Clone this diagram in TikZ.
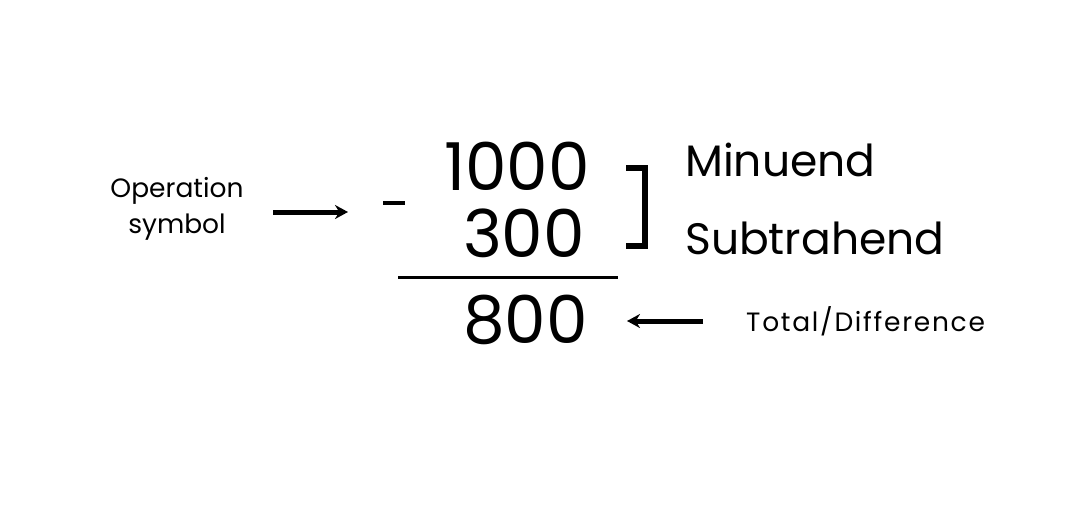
\documentclass[tikz,border=0pt]{standalone}
\usepackage{fontspec}
\setmainfont{Poppins}
\usetikzlibrary{arrows.meta}
\begin{document}
\begin{tikzpicture}[x=1pt,y=-1pt,
  big/.style={inner sep=0pt,font=\fontsize{66}{66}\selectfont},
  mid/.style={inner sep=0pt,font=\fontsize{44}{44}\selectfont},
  small/.style={inner sep=0pt,font=\fontsize{26.5}{36}\selectfont},
  arr/.style={line width=5pt,-{Stealth[length=13pt,width=14pt]}}]
\useasboundingbox (0,0) rectangle (1080,504);
\fill[white] (0,0) rectangle (1080,504);
\node[small,align=center] (op) at (177,209) {Operation\\symbol};
\coordinate (opA) at (273,212);
\coordinate (opB) at (348,212);
\draw[arr] (opA) -- (opB);
\draw[line width=4.5pt] (383,203) coordinate (m1) -- (405,203) coordinate (m2);
\node[big,anchor=base east] (n1) at (590,190) {1000};
\node[big,anchor=base east] (n2) at (585,257) {300};
\draw[line width=3pt] (398,277) coordinate (l1) -- (618,277) coordinate (l2);
\node[big,anchor=base east] (n3) at (588,343) {800};
\draw[line width=6pt] (626,168) -- (645,168) -- (645,246) -- (626,246);
\node[mid,anchor=base west] (min) at (685,176) {Minuend};
\node[mid,anchor=base west] (sub) at (685,254) {Subtrahend};
\coordinate (tA) at (703,321);
\coordinate (tB) at (627,321);
\node[small,anchor=west,font=\fontsize{26.5}{36}\selectfont\addfontfeatures{LetterSpace=6.5}] (tot) at (746,321) {Total/Difference};
\draw[arr] (tA) -- (tB);
\end{tikzpicture}
\end{document}
